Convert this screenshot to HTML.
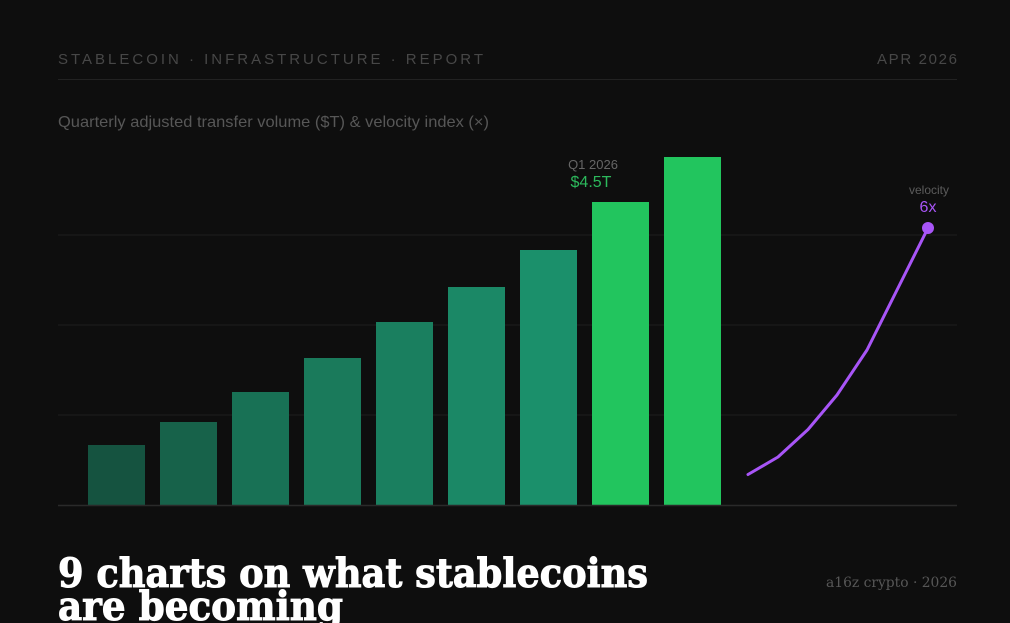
<!DOCTYPE html>
<html>
<head>
<meta charset="utf-8">
<style>
  html,body{margin:0;padding:0;background:#0e0e0e;}
  body{width:1010px;height:623px;overflow:hidden;}
  svg{display:block;}
</style>
</head>
<body>
<svg width="1010" height="623" viewBox="0 0 1010 623" xmlns="http://www.w3.org/2000/svg">
  <rect x="0" y="0" width="1010" height="623" fill="#0e0e0e"/>

  <!-- header -->
  <text x="58" y="64" font-family="Liberation Sans, sans-serif" font-size="15" fill="#474747" textLength="425" lengthAdjust="spacing">STABLECOIN · INFRASTRUCTURE · REPORT</text>
  <text x="957" y="64" text-anchor="end" font-family="Liberation Sans, sans-serif" font-size="15" fill="#474747" textLength="80" lengthAdjust="spacing">APR 2026</text>
  <line x1="58" y1="79.5" x2="957" y2="79.5" stroke="#222222" stroke-width="1"/>

  <!-- subtitle -->
  <text x="58" y="127" font-family="Liberation Sans, sans-serif" font-size="16" fill="#575757" textLength="431" lengthAdjust="spacingAndGlyphs">Quarterly adjusted transfer volume ($T) &amp; velocity index (×)</text>

  <!-- gridlines -->
  <line x1="58" y1="235" x2="957" y2="235" stroke="#1e1e1e" stroke-width="1"/>
  <line x1="58" y1="325" x2="957" y2="325" stroke="#1e1e1e" stroke-width="1"/>
  <line x1="58" y1="415" x2="957" y2="415" stroke="#1e1e1e" stroke-width="1"/>

  <!-- bars -->
  <rect x="88" y="445" width="57" height="60" fill="#155340"/>
  <rect x="160" y="422" width="57" height="83" fill="#17624a"/>
  <rect x="232" y="392" width="57" height="113" fill="#187155"/>
  <rect x="304" y="358" width="57" height="147" fill="#1a7a5b"/>
  <rect x="376" y="322" width="57" height="183" fill="#1a7f5f"/>
  <rect x="448" y="287" width="57" height="218" fill="#1b8866"/>
  <rect x="520" y="250" width="57" height="255" fill="#1b906b"/>
  <rect x="592" y="202" width="57" height="303" fill="#22c55e"/>
  <rect x="664" y="157" width="57" height="348" fill="#22c55e"/>

  <!-- baseline -->
  <line x1="58" y1="505.5" x2="957" y2="505.5" stroke="#2a2a2a" stroke-width="1.5"/>

  <!-- bar annotation -->
  <text x="593" y="169" text-anchor="middle" font-family="Liberation Sans, sans-serif" font-size="13" fill="#666666">Q1 2026</text>
  <text x="591" y="187" text-anchor="middle" font-family="Liberation Sans, sans-serif" font-size="16" fill="#2cb95c">$4.5T</text>

  <!-- velocity line -->
  <polyline points="748,474.5 778,457 808,429.5 837,395 867,350 898,288 928,228" fill="none" stroke="#a855f7" stroke-width="3" stroke-linejoin="round" stroke-linecap="round"/>
  <circle cx="928" cy="228" r="6" fill="#a855f7"/>
  <text x="929" y="194" text-anchor="middle" font-family="Liberation Sans, sans-serif" font-size="12" fill="#5c5c5c">velocity</text>
  <text x="928" y="212" text-anchor="middle" font-family="Liberation Sans, sans-serif" font-size="16" fill="#a855f7">6x</text>

  <!-- headline -->
  <text x="58" y="587" font-family="DejaVu Serif, Liberation Serif, serif" font-weight="bold" font-size="40" fill="#ffffff" stroke="#ffffff" stroke-width="1" textLength="590" lengthAdjust="spacingAndGlyphs">9 charts on what stablecoins</text>
  <text x="58" y="620" font-family="DejaVu Serif, Liberation Serif, serif" font-weight="bold" font-size="40" fill="#ffffff" stroke="#ffffff" stroke-width="1" textLength="285" lengthAdjust="spacingAndGlyphs">are becoming</text>

  <!-- footer credit -->
  <text x="957" y="587" text-anchor="end" font-family="DejaVu Serif, Liberation Serif, serif" font-size="14" fill="#575757" textLength="131" lengthAdjust="spacingAndGlyphs">a16z crypto · 2026</text>
</svg>
</body>
</html>
